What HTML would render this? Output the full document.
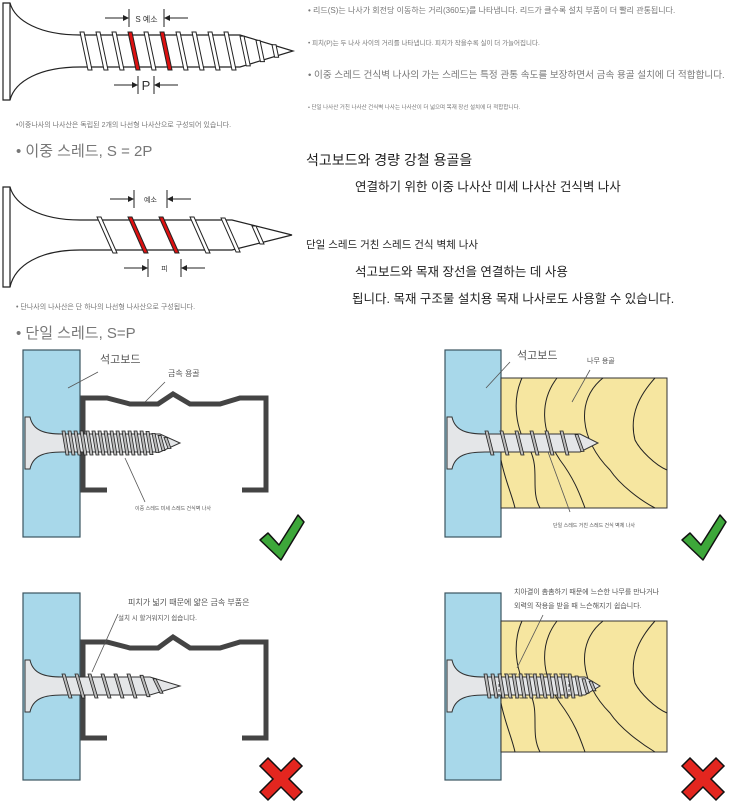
<!DOCTYPE html>
<html><head><meta charset="utf-8">
<style>
html,body{margin:0;padding:0;background:#fff;}
svg{display:block;}
text{font-family:"Liberation Sans","Noto Sans CJK KR",sans-serif;}
</style></head><body>
<svg id="s" width="750" height="804" viewBox="0 0 750 804" xmlns="http://www.w3.org/2000/svg">
<g fill="#777">
<text x="308" y="13" font-size="8">• 리드(S)는 나사가 회전당 이동하는 거리(360도)를 나타냅니다. 리드가 클수록 설치 부품이 더 빨리 관통됩니다.</text>
<text x="308" y="45" font-size="6.5">• 피치(P)는 두 나사 사이의 거리를 나타냅니다. 피치가 작을수록 실이 더 가늘어집니다.</text>
<text x="308" y="78" font-size="9.6">• 이중 스레드 건식벽 나사의 가는 스레드는 특정 관통 속도를 보장하면서 금속 용골 설치에 더 적합합니다.</text>
<text x="308" y="109" font-size="5.5">• 단일 나사산 거친 나사산 건식벽 나사는 나사산이 더 넓으며 목재 장선 설치에 더 적합합니다.</text>
<text x="16" y="127" font-size="7">•이중나사의 나사산은 독립된 2개의 나선형 나사산으로 구성되어 있습니다.</text>
<text x="16" y="309" font-size="7">• 단나사의 나사산은 단 하나의 나선형 나사산으로 구성됩니다.</text>
<text x="16" y="156" font-size="15">• 이중 스레드, S = 2P</text>
<text x="16" y="338" font-size="15">• 단일 스레드, S=P</text>
</g>
<g fill="#222">
<text x="306" y="165" font-size="14">석고보드와 경량 강철 용골을</text>
<text x="355" y="191" font-size="12.5">연결하기 위한 이중 나사산 미세 나사산 건식벽 나사</text>
<text x="306" y="248" font-size="10.5">단일 스레드 거친 스레드 건식 벽체 나사</text>
<text x="355" y="276" font-size="12.5">석고보드와 목재 장선을 연결하는 데 사용</text>
<text x="352" y="303" font-size="12.5">됩니다. 목재 구조물 설치용 목재 나사로도 사용할 수 있습니다.</text>
</g>
<g id="dyn"></g>

<g stroke="#3b5560" stroke-width="1.2" fill="#a8d8ea">
<rect x="23" y="350" width="57" height="187"/>
<rect x="445" y="350" width="56" height="187"/>
<rect x="23" y="593" width="57" height="187"/>
<rect x="445" y="593" width="56" height="187"/>
</g>
<g>
<rect x="501" y="378" width="166" height="130" fill="#f6e6a0" stroke="#333" stroke-width="1"/>
<rect x="501" y="621" width="166" height="131" fill="#f6e6a0" stroke="#333" stroke-width="1"/>
</g>
<g fill="none" stroke="#222" stroke-width="1">
<path d="M522 378 C512 400 515 430 530 450 C540 470 530 490 540 508 M557 378 C540 400 540 430 560 460 C575 480 580 495 585 508 M603 378 C575 400 580 440 610 470 C620 485 640 500 655 508 M655 378 C635 400 630 420 635 440 C640 450 655 465 667 470 M501 460 C505 480 512 495 515 508"/>
<path d="M522 621 C512 643 515 673 530 693 C540 713 530 733 540 752 M557 621 C540 643 540 673 560 703 C575 723 580 738 585 752 M603 621 C575 643 580 683 610 713 C620 728 640 743 655 752 M655 621 C635 643 630 663 635 683 C640 693 655 708 667 713 M501 703 C505 723 512 738 515 752"/>
</g>
<g fill="none" stroke="#444" stroke-width="5" stroke-linejoin="miter">
<path d="M107 490 L83 490 L83 398 L107 398 L130 404 L158 404 L173 394 L190 404 L220 404 L240 398 L266 398 L266 490 L242 490"/>
<path d="M107 738 L83 738 L83 642 L107 642 L130 648 L158 648 L173 637 L190 648 L220 648 L240 642 L266 642 L266 738 L242 738"/>
</g>
<g stroke="#555" stroke-width="0.8">
<line x1="98" y1="372" x2="68" y2="388"/>
<line x1="165" y1="382" x2="145" y2="402"/>
<line x1="125" y1="458" x2="145" y2="502"/>
<line x1="510" y1="362" x2="486" y2="388"/>
<line x1="590" y1="370" x2="572" y2="402"/>
<line x1="548" y1="452" x2="570" y2="512"/>
<line x1="118" y1="614" x2="92" y2="672"/>
<line x1="543" y1="615" x2="517" y2="668"/>
</g>
<g fill="#555">
<text x="100" y="363" font-size="11">석고보드</text>
<text x="168" y="376" font-size="8">금속 용골</text>
<text x="135" y="510" font-size="5">이중 스레드 미세 스레드 건식벽 나사</text>
<text x="517" y="359" font-size="11">석고보드</text>
<text x="587" y="363" font-size="7">나무 용골</text>
<text x="553" y="527" font-size="5">단일 스레드 거친 스레드 건식 벽체 나사</text>
<text x="128" y="605" font-size="8">피치가 넓기 때문에 얇은 금속 부품은</text>
<text x="118" y="620" font-size="6.5">설치 시 할거워지기 쉽습니다.</text>
<text x="514" y="594" font-size="7">치아결이 촘촘하기 때문에 느슨한 나무를 만나거나</text>
<text x="514" y="608" font-size="7">외력의 작용을 받을 때 느슨해지기 쉽습니다.</text>
</g>
<g stroke="#111" stroke-width="1.5" fill="#3da73a" stroke-linejoin="round">
<path d="M260 540 L268 533 L279 545 L298 515 L304 522 L281 560 Z"/>
<path d="M682 540 L690 533 L701 545 L720 515 L726 522 L703 560 Z"/>
</g>
<g fill="#e3261f" stroke="#111" stroke-width="1.5">
<path d="M268 758 L281 771 L294 758 L302 766 L289 779 L302 792 L294 800 L281 787 L268 800 L260 792 L273 779 L260 766 Z"/>
<path d="M690 758 L703 771 L716 758 L724 766 L711 779 L724 792 L716 800 L703 787 L690 800 L682 792 L695 779 L682 766 Z"/>
</g>
<g id="dyn2"></g>
</svg>
<script>
var NS="http://www.w3.org/2000/svg";
function el(p,t,a){var e=document.createElementNS(NS,t);for(var k in a)e.setAttribute(k,a[k]);p.appendChild(e);return e;}
var g=document.getElementById('dyn2');
function small(hx,cy,sx,ex,tip,pitch,hh,th,slant,dash){
  el(g,'path',{d:'M'+hx+' '+(cy-26)+' L'+(hx+5)+' '+(cy-26)+' C'+(hx+8)+' '+(cy-12)+' '+(hx+20)+' '+(cy-9)+' '+(sx)+' '+(cy-9)+' L'+ex+' '+(cy-9)+' L'+tip+' '+cy+' L'+ex+' '+(cy+9)+' L'+sx+' '+(cy+9)+' C'+(hx+20)+' '+(cy+9)+' '+(hx+8)+' '+(cy+12)+' '+(hx+5)+' '+(cy+26)+' L'+hx+' '+(cy+26)+' Z',fill:'#e4e6e8',stroke:'#333','stroke-width':1});
  if(dash) el(g,'rect',{x:sx+15,y:cy-12,width:70,height:24,fill:'none',stroke:'#333','stroke-dasharray':'3,2','stroke-width':0.8});
  for(var x=sx;x<ex+8;x+=pitch){
    var r=th*(x>ex-15?Math.max(0.4,(tip-x)/(tip-ex+15)):1);
    el(g,'path',{d:'M'+x+' '+(cy-r)+' L'+(x+3)+' '+(cy-r)+' L'+(x+3+slant)+' '+(cy+r)+' L'+(x+slant)+' '+(cy+r)+' Z',fill:'#bbb',stroke:'#222','stroke-width':0.8});
  }
}
small(25,443,62,160,180,6,26,12,4,false);
small(447,443,485,580,598,15,26,12,6,false);
small(25,686,62,150,180,13,26,12,7,false);
small(447,686,484,585,600,7,26,12,4,true);
var d=document.getElementById('dyn');
function big(y0,y1,cy,r,startx,endx,tip,pitch,slant,reds){
  el(d,'path',{d:'M3 '+y0+' L10 '+y0+' C15 '+(cy-30)+' 40 '+(cy-r)+' 80 '+(cy-r)+' L'+(endx-30)+' '+(cy-r)+' L'+tip+' '+cy+' L'+(endx-30)+' '+(cy+r)+' L80 '+(cy+r)+' C40 '+(cy+r)+' 15 '+(cy+30)+' 10 '+y1+' L3 '+y1+' Z',fill:'#fff',stroke:'#222','stroke-width':1.2});
  el(d,'line',{x1:10,y1:y0,x2:10,y2:y1,stroke:'#222','stroke-width':1.2});
  var i=0;
  for(var x=startx;x<endx+10;x+=pitch,i++){
    var rr=r+3, f=1; if(x>endx-45){f=Math.max(0.3,1-(x-endx+45)/70);rr=(r+3)*f;}
    var ccy=cy;
    var red=reds.indexOf(i)>=0;
    var sl=slant*f;
    el(d,'path',{d:'M'+x+' '+(ccy-rr)+' L'+(x+4)+' '+(ccy-rr)+' L'+(x+4+sl)+' '+(ccy+rr)+' L'+(x+sl)+' '+(ccy+rr)+' Z',fill:red?'#d11':'#fff',stroke:'#222','stroke-width':1});
  }
}
big(3,100,51,16,80,270,293,16,8,[3,5]);
big(187,287,235,15,97,262,292,31,16,[1,2]);
function dim(xa,xb,y,lab,fs,ty){
  el(d,'line',{x1:xa,y1:y-9,x2:xa,y2:y+9,stroke:'#222'});
  el(d,'line',{x1:xb,y1:y-9,x2:xb,y2:y+9,stroke:'#222'});
  el(d,'line',{x1:xa-24,y1:y,x2:xa-2,y2:y,stroke:'#222'});
  el(d,'line',{x1:xb+2,y1:y,x2:xb+24,y2:y,stroke:'#222'});
  el(d,'path',{d:'M'+xa+' '+y+' l-6 -3 v6 z',fill:'#222'});
  el(d,'path',{d:'M'+xb+' '+y+' l6 -3 v6 z',fill:'#222'});
  var t=el(d,'text',{x:(xa+xb)/2,y:ty,'font-size':fs,'text-anchor':'middle',fill:'#333'});t.textContent=lab;
}
dim(129,164,18,'S 예소',8,22);
dim(138,154,85,'P',13,90);
dim(134,167,199,'예소',7,202);
dim(148,181,268,'피',7,271);
</script>
</body></html>
